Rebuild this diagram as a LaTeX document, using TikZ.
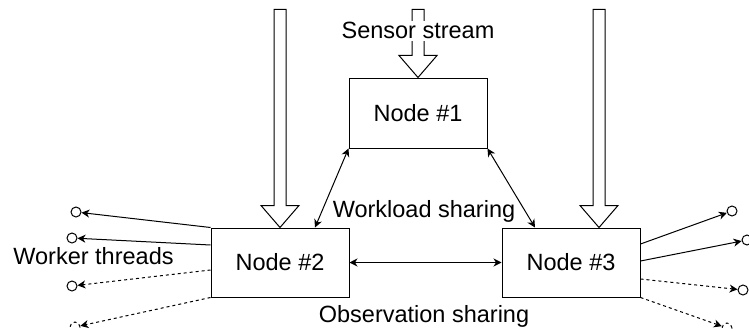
\documentclass[tikz,border=0pt]{standalone}
\usepackage{fontspec}
\setmainfont{Liberation Sans}
\usetikzlibrary{arrows.meta}

\tikzset{
  box/.style={draw,minimum width=138pt,minimum height=69pt,inner sep=0pt},
  worker/.style={draw,circle,minimum size=10pt,inner sep=0pt},
  lbl/.style={anchor=base,inner sep=2pt},
  both/.style={{Stealth[length=8pt,width=8pt,inset=2.5pt]}-{Stealth[length=8pt,width=8pt,inset=2.5pt]}},
  outarr/.style={-{Stealth[length=8pt,width=8pt,inset=2.5pt]}},
  dashline/.style={dash pattern=on 3pt off 3pt}
}
% hollow arrow, drawn up from its tip
\newcommand{\fatarrow}[2]{\draw[fill=white] (#1) -- ++(-19,-22) -- ++(13,0) -- ++(0,-#2) -- ++(12,0) -- ++(0,#2) -- ++(13,0) -- cycle;}

\begin{document}
\begin{tikzpicture}[x=1pt,y=-1pt,line width=1pt,font=\fontsize{23.5}{28}\selectfont]
        \useasboundingbox (0,0) rectangle (749,329);

        \node[box,minimum height=70pt](n1)at(418,113){Node \#1};
        \node[box](n2)at(280,262.5){Node \#2};
        \node[box](n3)at(571,262.5){Node \#3};

        \coordinate (in1) at (n1.north);
        \coordinate (in2) at (n2.north);
        \coordinate (in3) at ([xshift=28pt]n3.north);
        \fatarrow{in1}{46}
        \fatarrow{in2}{196}
        \fatarrow{in3}{196}
        \node[lbl,fill=white](sensor)at(418,39){Sensor stream};

        \draw[both](n1.south west)--([xshift=35pt]n2.north);
        \draw[both](n1.south east)--([xshift=-36pt]n3.north);
        \draw[both](n2.east)--(n3.west);
        \node[lbl](work)at(424,217){Workload sharing};
        \node[lbl](obs)at(424,322){Observation sharing};

        % worker threads
        \node[worker](wl1)at(76,212){};
        \node[worker](wl2)at(72,238){};
        \node[worker](wl3)at(72,286){};
        \node[worker,dashline](wl4)at(75,327){};
        \node[worker](wr1)at(732,211){};
        \node[worker](wr2)at(747,240){};
        \node[worker](wr3)at(743,290){};
        \node[worker,dashline](wr4)at(727,328){};
        \draw[outarr](n2.north west)--(wl1);
        \draw[outarr]([yshift=17.5pt]n2.west)--(wl2);
        \draw[outarr,dashline]([yshift=-7.5pt]n2.west)--(wl3);
        \draw[outarr,dashline](n2.south west)--(wl4);
        \draw[outarr]([yshift=18.5pt]n3.east)--(wr1);
        \draw[outarr]([yshift=1.5pt]n3.east)--(wr2);
        \draw[outarr,dashline]([yshift=-16.5pt]n3.east)--(wr3);
        \draw[outarr,dashline](n3.south east)--(wr4);
        \node[lbl](threads)at(93.5,264){Worker threads};
    \end{tikzpicture}
\end{document}
